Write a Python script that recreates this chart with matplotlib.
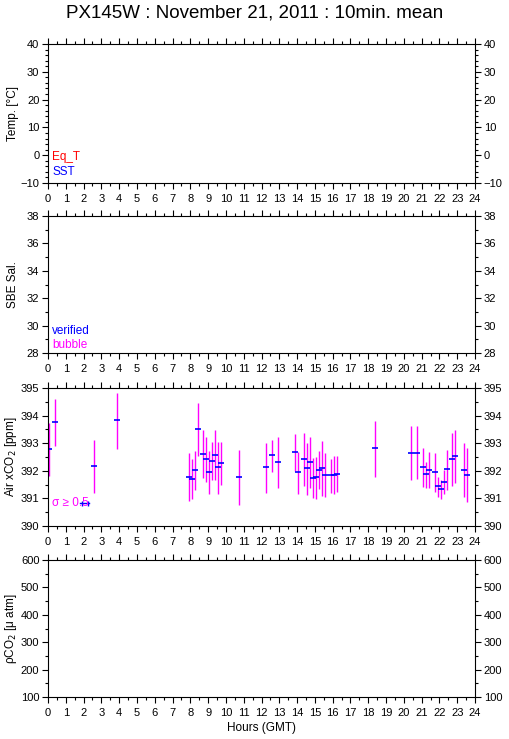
import matplotlib.pyplot as plt
from matplotlib.ticker import MultipleLocator

plt.rcParams["font.family"] = ["Liberation Sans", "DejaVu Sans"]

# Air xCO2 10-min means (hours GMT), with min/max whiskers
hours = [0.06, 0.39, 2.59, 3.88, 7.94, 8.10, 8.27, 8.44, 8.72, 8.89, 9.06, 9.22,
         9.39, 9.56, 9.73, 10.74, 12.26, 12.60, 12.94, 13.89, 14.06, 14.40, 14.57,
         14.74, 14.90, 15.07, 15.24, 15.41, 15.58, 15.92, 16.09, 16.25, 18.39,
         20.42, 20.75, 21.09, 21.26, 21.43, 21.77, 21.93, 22.10, 22.25, 22.40,
         22.72, 22.89, 23.40, 23.57]
xco2_mean = [392.79, 393.77, 392.17, 393.84, 391.77, 391.70, 392.02, 393.51, 392.60,
             392.42, 391.95, 392.35, 392.57, 392.13, 392.28, 391.77, 392.13, 392.57,
             392.31, 392.68, 391.95, 392.42, 392.10, 392.31, 391.73, 391.77, 392.02,
             392.10, 391.84, 391.84, 391.84, 391.88, 392.82, 392.64, 392.64, 392.13,
             391.88, 392.02, 391.95, 391.44, 391.33, 391.59, 392.06, 392.42, 392.53,
             392.02, 391.84]
xco2_lo = [391.82, 392.90, 391.21, 392.80, 390.92, 390.99, 391.32, 392.52, 391.74,
           391.60, 391.17, 391.65, 391.65, 391.17, 391.50, 390.77, 391.21, 391.97,
           391.39, 392.01, 391.17, 391.46, 391.14, 391.39, 391.03, 390.99, 391.35,
           391.10, 391.06, 391.21, 391.17, 391.25, 391.79, 391.65, 391.69, 391.43,
           391.39, 391.39, 391.25, 391.06, 390.99, 391.17, 391.32, 391.46, 391.57,
           391.06, 390.88]
xco2_hi = [393.75, 394.61, 393.12, 394.82, 392.65, 392.43, 392.72, 394.47, 393.49,
           393.23, 392.72, 393.05, 393.49, 393.05, 393.05, 392.76, 393.01, 393.12,
           393.23, 393.34, 392.69, 393.38, 393.01, 393.23, 392.47, 392.51, 392.72,
           393.09, 392.65, 392.43, 392.54, 392.54, 393.81, 393.63, 393.63, 392.83,
           392.32, 392.69, 392.65, 391.79, 391.67, 392.03, 392.76, 393.38, 393.49,
           393.01, 392.83]

# sigma key marks drawn next to the "σ ≥ 0.5" note
key_x = [1.79, 2.29]
key_ticks = [1.93, 2.26]
key_y = 390.82

hour_ticks = list(range(0, 25))

# panel settings: ylabel, ylim, major, minor
panels = [
    ("Temp. [°C]", (-10, 40), 10, 2),
    ("SBE Sal.", (28, 38), 2, 1),
    ("Air xCO$_2$ [ppm]", (390, 395), 1, 0.5),
    ("ρCO$_2$ [μ atm]", (100, 600), 100, 50),
]

fig = plt.figure(figsize=(5.09, 7.39), dpi=100)
W, H = 509, 739
left, right = 48, 475
tops = [44, 216, 388, 560]
bottoms = [183, 353, 526, 697]

axes = []
for (label, ylim, major, minor), top, bot in zip(panels, tops, bottoms):
    ax = fig.add_axes([left / W, 1 - bot / H, (right - left) / W, (bot - top) / H])
    ax.set_xlim(0, 24)
    ax.set_ylim(*ylim)
    ax.set_xticks(hour_ticks)
    ax.xaxis.set_minor_locator(MultipleLocator(0.5))
    ax.yaxis.set_major_locator(MultipleLocator(major))
    ax.yaxis.set_minor_locator(MultipleLocator(minor))
    ax.tick_params(which="both", direction="out", top=True, right=True,
                   labelright=True, labelsize=8, width=0.8, pad=2)
    ax.tick_params(axis="x", which="major", pad=3.5)
    ax.tick_params(which="major", length=4.2)
    ax.tick_params(which="minor", length=2.2)
    for s in ax.spines.values():
        s.set_linewidth(0.8)
    ax.set_ylabel(label, fontsize=8.5)
    ax.yaxis.set_label_coords(-0.068, 0.5)
    axes.append(ax)

ax1, ax2, ax3, ax4 = axes

ax1.text(0.01, 0.187, "Eq_T", color="red", fontsize=8.5, transform=ax1.transAxes, va="center")
ax1.text(0.01, 0.079, "SST", color="blue", fontsize=8.5, transform=ax1.transAxes, va="center")
ax2.text(0.01, 0.16, "verified", color="blue", fontsize=8.5, transform=ax2.transAxes, va="center")
ax2.text(0.01, 0.058, "bubble", color="magenta", fontsize=8.5, transform=ax2.transAxes, va="center")

ax3.vlines(hours, xco2_lo, xco2_hi, color="#ff00ff", lw=1.0)
ax3.plot(hours, xco2_mean, ls="none", marker="_", ms=4.5, mew=1.2, color="#0000ff")

ax3.text(0.01, 0.167, "σ ≥ 0.5", color="#ff00ff", fontsize=8.5, transform=ax3.transAxes, va="center")
ax3.plot(key_x, [key_y, key_y], color="#0000ff", lw=1.0)
ax3.vlines(key_ticks, key_y - 0.08, key_y + 0.08, color="#0000ff", lw=1.0)

ax4.set_xlabel("Hours (GMT)", fontsize=8.5, labelpad=3)

fig.text(0.5, 1 - 13 / H, "PX145W : November 21, 2011 : 10min. mean",
         ha="center", va="center", fontsize=13.5)

fig.savefig("out.png", dpi=100)
